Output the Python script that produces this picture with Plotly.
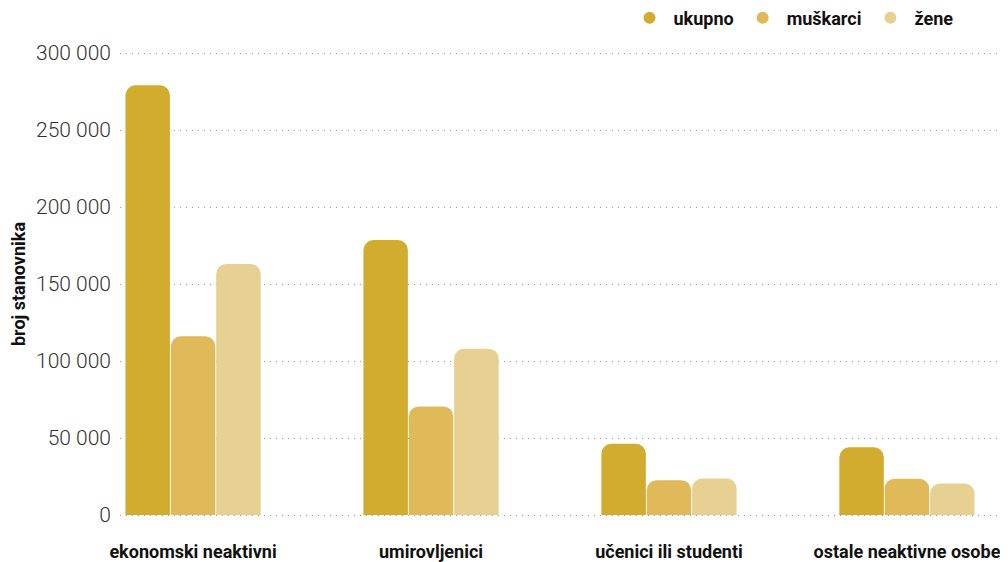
import plotly.graph_objects as go

categories = ["ekonomski neaktivni", "umirovljenici", "učenici ili studenti", "ostale neaktivne osobe"]
series_names = ["ukupno", "muškarci", "žene"]
ukupno = [279000, 178500, 46300, 44000]
muskarci = [116000, 70500, 22600, 23600]
zene = [163000, 108000, 23700, 20400]
colors = ["#D2AC2F", "#E0BA58", "#E6D092"]
y_ticks = [0, 50000, 100000, 150000, 200000, 250000, 300000]
y_tick_labels = ["0", "50 000", "100 000", "150 000", "200 000", "250 000", "300 000"]

fig = go.Figure()
for name, vals, col in zip(series_names, [ukupno, muskarci, zene], colors):
    fig.add_trace(go.Bar(x=categories, y=vals, name=name, marker_color=col,
                         marker_line_width=0, showlegend=False, legendgroup=name))
for name, col in zip(series_names, colors):
    fig.add_trace(go.Scatter(x=[None], y=[None], mode="markers", name=name,
                             marker=dict(symbol="circle", size=13, color=col),
                             legendgroup=name, showlegend=True))

# page body has an 8px default margin, so the figure is sized 1000x554
fig.update_layout(
    width=1000, height=554,
    margin=dict(l=112, r=3, t=43, b=45),
    paper_bgcolor="white", plot_bgcolor="white",
    font=dict(family="Roboto", color="#222"),
    barmode="group", bargap=0.428, bargroupgap=0.02, barcornerradius=10,
    legend=dict(orientation="h", xref="container", yref="container",
                x=0.9505, xanchor="right", y=0.982, yanchor="middle",
                itemwidth=38,
                font=dict(family="Roboto", size=18, weight=700, color="#111"),
                itemsizing="constant", bgcolor="rgba(0,0,0,0)", traceorder="normal"),
    xaxis=dict(range=[-0.307, 3.412], showgrid=False, showline=False, zeroline=False,
               ticks="", ticklabelstandoff=22, automargin=False,
               tickfont=dict(family="Roboto", size=18, weight=700, color="#111")),
    yaxis=dict(range=[-1300, 301300], tickvals=y_ticks, ticktext=y_tick_labels,
               showgrid=True, gridcolor="#9a9a9a", griddash="1px,5px", gridwidth=1,
               zeroline=False, showline=False, ticks="", ticklabelstandoff=8,
               automargin=False,
               tickfont=dict(family="Roboto", size=21, weight=300, color="#333"),
               title=dict(text="broj stanovnika", standoff=6,
                          font=dict(family="Roboto", size=18, weight=700, color="#111"))),
)

fig.write_html("out.html")
